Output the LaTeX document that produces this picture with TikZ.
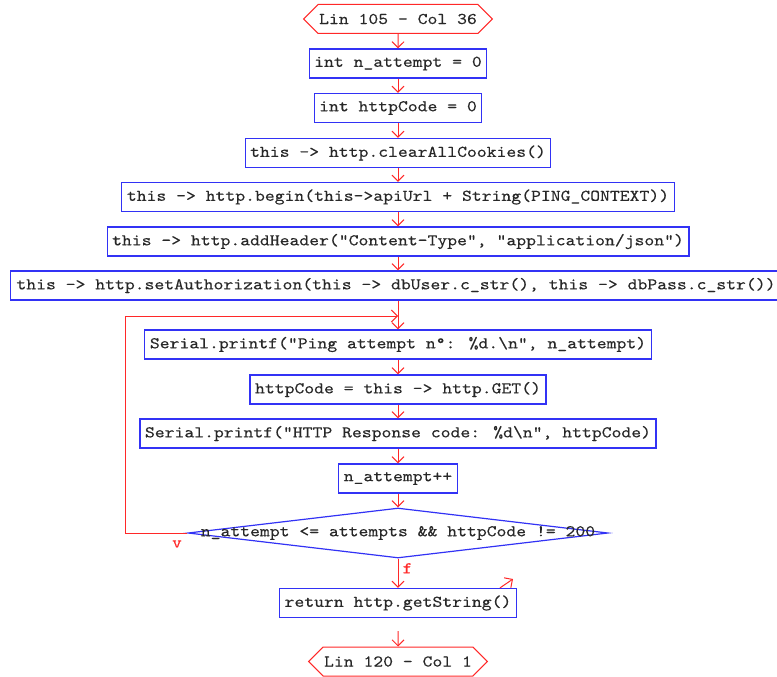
\documentclass[tikz,border=0pt]{standalone}
\usepackage{fontspec}
\newfontfamily\codefont{lmmono10-regular.otf}[FakeStretch=1.145,FakeBold=0.25]
\usetikzlibrary{arrows.meta,shapes.geometric,shapes.symbols}
\definecolor{flowred}{RGB}{255,40,40}
\definecolor{boxblue}{RGB}{50,50,245}
\definecolor{codegray}{RGB}{40,40,40}
\begin{document}
\begin{tikzpicture}[
        x=1pt, y=-1pt,
        every node/.style = {font=\codefont\fontsize{16.4}{18}\selectfont, text=codegray},
        stmt/.style = {draw=boxblue, line width=1.2pt, minimum height=29pt, inner xsep=5pt, inner ysep=0pt},
        term/.style = {draw=flowred, line width=1pt, signal, signal to=east and west, minimum height=29pt, inner xsep=1pt, inner ysep=0pt},
        decision/.style = {draw=boxblue, line width=1.2pt, diamond, minimum width=420pt, minimum height=50pt, inner sep=0pt},
        flow/.style = {draw=flowred, line width=1pt, -{Straight Barb[length=6pt,width=12pt]}},
        tag/.style = {text=flowred, inner sep=0pt}
    ]
        \useasboundingbox (0,0) rectangle (777,677);
        \node[term] (start) at (398,19) {Lin 105 - Col 36};
        \node[stmt] (init1) at (398,63.5) {int n\_attempt = 0};
        \node[stmt] (init2) at (398,108) {int httpCode = 0};
        \node[stmt] (clear) at (398,153) {this -> http.clearAllCookies()};
        \node[stmt] (begin) at (398,197) {this -> http.begin(this->apiUrl + String(PING\_CONTEXT))};
        \node[stmt] (header) at (398,241.5) {this -> http.addHeader("Content-Type", "application/json")};
        \node[stmt, inner xsep=6pt] (auth) at (396,285.5) {this -> http.setAuthorization(this -> dbUser.c\_str(), this -> dbPass.c\_str())};
        \coordinate (join) at (398,316);
        \node[stmt] (ping) at (398,344.5) {Serial.printf("Ping attempt n°: \%d.\textbackslash n", n\_attempt)};
        \node[stmt] (get) at (398,389.5) {httpCode = this -> http.GET()};
        \node[stmt] (resp) at (398,433.5) {Serial.printf("HTTP Response code: \%d\textbackslash n", httpCode)};
        \node[stmt] (incr) at (398,478.5) {n\_attempt++};
        \node[decision] (cond) at (398,533) {};
        \node (condtext) at (cond) {n\_attempt <= attempts \&\& httpCode != 200};
        \node[stmt] (ret) at (398,603) {return http.getString()};
        \node[term] (stop) at (398,661.5) {Lin 120 - Col 1};
        \foreach \a/\b in {start/init1, init1/init2, init2/clear, clear/begin, begin/header,
                ping/get, get/resp, resp/incr, incr/cond}
            \draw[flow] (\a) -- (\b);
        \draw[flow] (header) -- (header |- auth.north);
        \draw[flow] (auth.south -| join) -- (ping);
        % loop back
        \coordinate (back) at (125,316);
        \draw[flow] (cond.west) -| (back) -- (join);
        \node[tag] (yes) at (177,544) {v};
        \draw[flow] (cond) -- node[tag, pos=0.33, right=4pt] (no) {f} (ret);
        \coordinate (stub) at (513,579);
        \draw[flow] ([xshift=-17pt]ret.north east) -- (stub);
        \coordinate (tail) at (398,631);
        \draw[flow] (tail) -- (stop);
    \end{tikzpicture}
\end{document}
